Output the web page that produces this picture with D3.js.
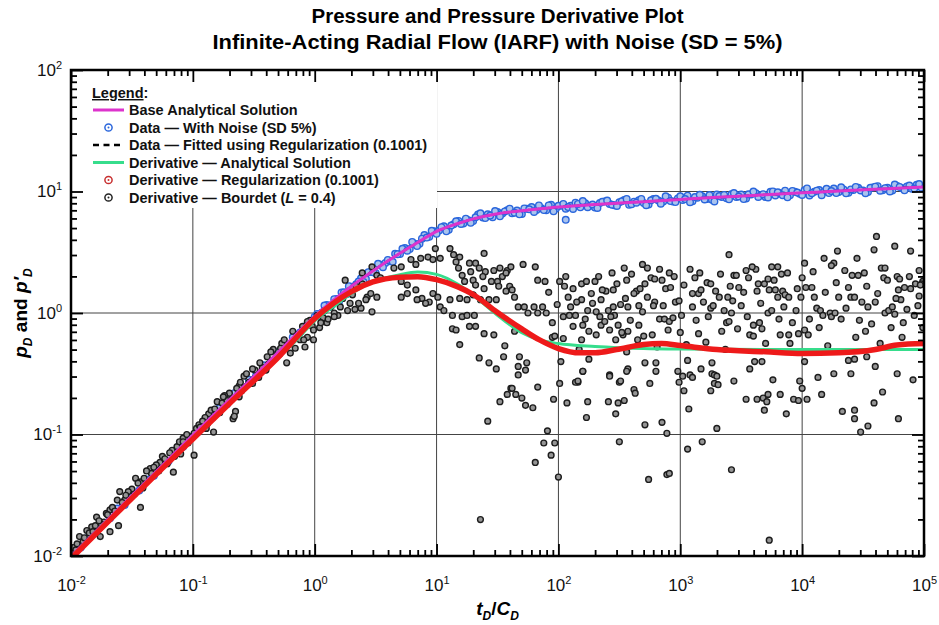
<!DOCTYPE html>
<html>
<head>
<meta charset="utf-8">
<script src="https://cdn.jsdelivr.net/npm/d3@7"></script>
<style>
  body { margin: 0; background: #fff; }
  svg { display: block; }
</style>
</head>
<body>
<svg id="chart"></svg>
<script>
// ---------- data ----------

// axis decades (tick labels are 10^exp)
const xTickExps = [-2, -1, 0, 1, 2, 3, 4, 5];
const yTickExps = [-2, -1, 0, 1, 2];

// base analytical solution pD(tD/CD)
const baseT = [0.01, 0.02, 0.05, 0.1, 0.2, 0.3, 0.5, 1, 2, 3, 5, 7, 10, 15, 20, 30, 50, 70, 100, 200, 500, 1000, 2000, 5000, 1e4, 2e4, 5e4, 1e5];
const baseP = [0.0100, 0.0199, 0.0495, 0.099, 0.194, 0.285, 0.475, 0.94, 1.66, 2.22, 3.1, 3.8, 4.7, 5.45, 5.95, 6.5, 6.95, 7.2, 7.45, 7.8, 8.25, 8.6, 8.95, 9.4, 9.75, 10.1, 10.55, 10.9];

// fitted (regularization) pressure, dashed, sits under the base curve
const fitT = [0.01, 0.02, 0.05, 0.1, 0.2, 0.5, 1, 2, 3, 5, 7, 10, 15, 20, 30, 50, 70, 100, 200, 500, 1000, 2000, 5000, 1e4, 2e4, 5e4, 1e5];
const fitP = [0.0101, 0.0200, 0.0497, 0.0985, 0.195, 0.476, 0.94, 1.67, 2.23, 3.1, 3.79, 4.69, 5.44, 5.95, 6.5, 6.96, 7.21, 7.46, 7.81, 8.25, 8.61, 8.95, 9.41, 9.76, 10.1, 10.56, 10.92];

// analytical derivative p'D
const derivT = [0.01, 0.02, 0.05, 0.1, 0.2, 0.3, 0.5, 0.7, 1, 1.5, 2, 3, 5, 7, 10, 15, 20, 30, 50, 70, 100, 200, 500, 1000, 1e4, 1e5];
const derivP = [0.0098, 0.0195, 0.048, 0.094, 0.18, 0.265, 0.43, 0.59, 0.86, 1.17, 1.45, 1.8, 2.07, 2.17, 2.08, 1.72, 1.4, 1.0, 0.69, 0.6, 0.56, 0.53, 0.51, 0.505, 0.5, 0.5];

// regularization derivative (0.1001)
const regT = [0.01, 0.02, 0.05, 0.1, 0.2, 0.5, 1, 2, 3, 5, 7, 10, 15, 20, 30, 50, 70, 100, 150, 200, 300, 500, 700, 1000, 2000, 5000, 1e4, 2e4, 4e4, 6e4, 1e5];
const regP = [0.0095, 0.019, 0.047, 0.092, 0.18, 0.43, 0.9, 1.5, 1.8, 1.97, 1.99, 1.88, 1.64, 1.42, 1.05, 0.74, 0.6, 0.51, 0.47, 0.47, 0.5, 0.55, 0.56, 0.54, 0.5, 0.48, 0.465, 0.47, 0.5, 0.545, 0.56];

// noisy pressure data, [log10 tD/CD, log10 pD]
const noisyData = [
  [-1.98,-1.97],[-1.92,-1.93],[-1.86,-1.85],[-1.80,-1.81],[-1.74,-1.73],[-1.68,-1.69],[-1.62,-1.61],[-1.56,-1.58],
  [-1.50,-1.49],[-1.44,-1.46],[-1.38,-1.37],[-1.32,-1.34],[-1.26,-1.25],[-1.20,-1.22],[-1.14,-1.13],[-1.08,-1.10],
  [-1.02,-1.02],[-0.96,-0.98],[-0.90,-0.90],[-0.84,-0.86],[-0.78,-0.78],[-0.72,-0.75],[-0.66,-0.66],[-0.60,-0.63],
  [-0.54,-0.55],[-0.48,-0.51],[-0.42,-0.43],[-0.36,-0.40],[-0.30,-0.32],[-0.24,-0.28],[-0.18,-0.20],[-0.12,-0.16],
  [-0.06,-0.09],[0.00,-0.03],
  [0.02,-0.008],[0.06,0.005],[0.10,0.066],[0.14,0.064],[0.18,0.115],[0.22,0.169],[0.26,0.155],[0.30,0.217],
  [0.34,0.236],[0.38,0.286],[0.42,0.280],[0.46,0.339],[0.50,0.330],[0.54,0.398],[0.58,0.412],[0.62,0.426],
  [0.66,0.487],[0.70,0.485],[0.74,0.534],[0.78,0.526],[0.82,0.570],[0.86,0.569],[0.90,0.642],[0.94,0.627],
  [0.98,0.672],[1.02,0.679],[1.06,0.714],[1.10,0.686],[1.14,0.731],[1.18,0.758],[1.22,0.737],[1.26,0.764],
  [1.30,0.758],[1.34,0.810],[1.38,0.787],[1.42,0.812],[1.46,0.788],[1.50,0.831],[1.54,0.819],[1.58,0.845],
  [1.62,0.820],[1.66,0.843],[1.70,0.814],[1.74,0.859],[1.78,0.872],[1.82,0.847],[1.86,0.862],[1.90,0.846],
  [1.94,0.890],[1.98,0.860],[2.02,0.882],[2.06,0.858],[2.10,0.882],[2.14,0.908],[2.18,0.870],[2.22,0.903],
  [2.26,0.883],[2.30,0.869],[2.34,0.905],[2.38,0.917],[2.42,0.898],[2.46,0.887],[2.50,0.912],[2.54,0.931],
  [2.58,0.890],[2.62,0.916],[2.66,0.928],[2.70,0.905],[2.74,0.892],[2.78,0.939],[2.82,0.925],[2.86,0.918],
  [2.90,0.949],[2.94,0.917],[2.98,0.943],[3.02,0.931],[3.06,0.966],[3.10,0.920],[3.14,0.949],[3.18,0.960],
  [3.22,0.938],[3.26,0.933],[3.30,0.976],[3.34,0.955],[3.38,0.944],[3.42,0.977],[3.46,0.955],[3.50,0.975],
  [3.54,0.943],[3.58,0.976],[3.62,0.986],[3.66,0.968],[3.70,0.955],[3.74,0.998],[3.78,0.967],[3.82,0.985],
  [3.86,1.007],[3.90,0.969],[3.94,0.998],[3.98,0.981],[4.02,1.010],[4.06,0.968],[4.10,0.998],[4.14,1.012],
  [4.18,0.997],[4.22,0.987],[4.26,1.024],[4.30,0.996],[4.34,1.017],[4.38,0.989],[4.42,1.013],[4.46,1.030],
  [4.50,1.008],[4.54,0.995],[4.58,1.032],[4.62,1.044],[4.66,1.010],[4.70,1.031],[4.74,1.009],[4.78,1.046],
  [4.82,1.027],[4.86,1.042],[4.90,1.023],[4.94,1.055],[4.98,1.031],[2.06,0.767],
  [0.04,-0.029],[0.08,0.061],[0.12,0.051],[0.16,0.114],[0.20,0.095],[0.24,0.170],[0.28,0.221],[0.32,0.207],
  [0.36,0.259],[0.40,0.256],[0.44,0.336],[0.48,0.336],[0.52,0.405],[0.56,0.377],[0.60,0.437],[0.64,0.421],
  [0.68,0.484],[0.72,0.528],[0.76,0.513],[0.80,0.585],[0.84,0.551],[0.88,0.612],[0.92,0.621],[0.96,0.676],
  [1.00,0.652],[1.04,0.706],[1.08,0.672],[1.12,0.720],[1.16,0.755],[1.20,0.733],[1.24,0.776],[1.28,0.742],
  [1.32,0.788],[1.36,0.821],[1.40,0.781],[1.44,0.802],[1.48,0.839],[1.52,0.796],[1.56,0.836],[1.60,0.859],
  [1.64,0.826],[1.68,0.812],[1.72,0.861],[1.76,0.853],[1.80,0.832],[1.84,0.885],[1.88,0.847],[1.92,0.885],
  [1.96,0.837],[2.00,0.882],[2.04,0.898],[2.08,0.872],[2.12,0.856],[2.16,0.898],[2.20,0.921],[2.24,0.871],
  [2.28,0.893],[2.32,0.864],[2.36,0.915],[2.40,0.925],[2.44,0.891],[2.48,0.881],[2.52,0.919],[2.56,0.939],
  [2.60,0.896],[2.64,0.908],[2.68,0.939],[2.72,0.887],[2.76,0.927],[2.80,0.940],[2.84,0.900],[2.88,0.960],
  [2.92,0.921],[2.96,0.913],[3.00,0.960],[3.04,0.938],[3.08,0.912],[3.12,0.954],[3.16,0.973],[3.20,0.934],
  [3.24,0.971],[3.28,0.918],[3.32,0.962],[3.36,0.972],[3.40,0.936],[3.44,0.987],[3.48,0.959],[3.52,0.938],
  [3.56,0.977],[3.60,1.000],[3.64,0.955],[3.68,0.978],[3.72,0.951],[3.76,1.001],[3.80,0.994],[3.84,0.969],
  [3.88,0.952],[3.92,1.005],[3.96,0.991],[4.00,0.971],[4.04,1.025],[4.08,0.986],[4.12,1.007],[4.16,0.969],
  [4.20,1.022],[4.24,1.004],[4.28,0.987],[4.32,1.035],[4.36,0.985],[4.40,1.017],[4.44,1.038],[4.48,1.009],
  [4.52,0.986],[4.56,1.031],[4.60,1.040],[4.64,1.007],[4.68,1.027],[4.72,1.000],[4.76,1.057],[4.80,1.038],
  [4.84,1.010],[4.88,1.049],[4.92,1.024],[4.96,1.061]
];

// Bourdet derivative (L = 0.4), [log10 tD/CD, log10 p'D]
const bourdetData = [
  [-2.00,-1.97],[-1.98,-1.93],[-1.95,-1.90],[-1.93,-1.84],[-1.87,-1.79],[-1.83,-1.76],[-1.79,-1.68],[-1.76,-1.84],
  [-1.73,-1.72],[-1.71,-1.65],[-1.68,-1.62],[-1.68,-1.80],[-1.62,-1.54],[-1.61,-1.75],[-1.60,-1.47],[-1.56,-1.54],
  [-1.50,-1.45],[-1.47,-1.36],[-1.43,-1.39],[-1.43,-1.60],[-1.35,-1.28],[-1.34,-1.32],[-1.27,-1.23],[-1.21,-1.24],
  [-1.17,-1.13],[-1.16,-1.31],[-1.10,-1.16],[-1.08,-1.03],[-1.02,-1.02],[-0.99,-1.17],[-0.97,-0.95],[-0.87,-0.83],
  [-0.83,-0.98],[-0.80,-0.73],[-0.67,-0.87],[-0.65,-0.81],
  [-1.90,-1.88],[-1.85,-1.81],[-1.80,-1.75],[-1.75,-1.74],[-1.70,-1.66],[-1.66,-1.60],[-1.58,-1.56],[-1.53,-1.47],
  [-1.45,-1.40],[-1.40,-1.36],[-1.38,-1.30],[-1.30,-1.25],[-1.25,-1.18],[-1.19,-1.15],[-1.13,-1.10],[-1.05,-1.00],
  [-0.95,-0.92],[-0.90,-0.86],[-0.85,-0.80],[-0.76,-0.74],[-0.72,-0.70],[-0.70,-0.66],[-0.62,-0.60],
  [-1.96,-1.95],[-1.89,-1.85],[-1.82,-1.80],[-1.77,-1.71],[-1.64,-1.63],[-1.55,-1.50],[-1.48,-1.49],[-1.41,-1.44],
  [-1.32,-1.27],[-1.28,-1.30],[-1.23,-1.20],[-1.15,-1.18],[-1.11,-1.06],[-1.04,-1.07],[-0.92,-0.89],[-0.89,-0.95],
  [-0.82,-0.79],[-0.78,-0.82],[-0.74,-0.68],[-0.68,-0.71],[-0.64,-0.62],[-0.60,-0.64],
  [-0.58,-0.52],[-0.54,-0.57],[-0.49,-0.47],[-0.43,-0.45],[-0.38,-0.42],[-0.34,-0.30],[-0.29,-0.34],[-0.27,-0.25],
  [-0.21,-0.26],[-0.18,-0.15],[-0.14,-0.18],[-0.10,-0.11],[-0.04,-0.06],[0.02,-0.02],[0.04,-0.12],[0.08,0.02],
  [0.13,0.05],[0.19,-0.02],[0.23,0.12],[0.31,0.15],[0.33,0.03],
  [0.25,0.27],[0.39,0.33],[0.47,0.38],[0.43,0.13],[0.47,0.01],[0.38,0.04],[0.29,0.08],[0.21,0.05],
  [0.16,0.00],[0.10,-0.08],[0.07,-0.04],[-0.02,-0.11],[-0.01,-0.22],[-0.08,-0.28],[-0.06,-0.07],[-0.12,-0.22],
  [-0.16,-0.29],[-0.20,-0.33],[-0.25,-0.22],[-0.28,-0.29],[-0.23,-0.41],[-0.31,-0.35],[-0.36,-0.32],[-0.39,-0.36],
  [-0.40,-0.47],[-0.45,-0.41],[-0.46,-0.53],[-0.51,-0.46],[-0.51,-0.58],[-0.56,-0.50],[-0.61,-0.57],[-0.62,-0.69],
  [-0.66,-0.85],[-0.72,-0.72],[-0.75,-0.69],[-0.88,-0.91],[-0.94,-0.94],[-0.99,-0.99],[-1.08,-1.06],
  [0.99,0.53],[1.11,0.53],[1.39,0.49],[0.51,0.31],[0.54,0.29],[0.65,0.37],[0.71,0.38],[0.79,0.44],
  [0.83,0.40],[0.87,0.45],[0.93,0.46],[0.97,0.44],[0.34,0.22],[0.39,0.24],[0.42,0.11],[0.46,0.16],
  [0.51,0.13],[0.36,0.08],[0.27,0.02],[0.16,-0.03],[0.11,-0.05],[0.05,-0.08],[-0.01,-0.14],[-0.06,-0.20],
  [-0.09,-0.22],[0.71,0.26],[0.76,0.23],[0.83,0.19],[0.88,0.12],[0.94,0.09],[0.97,0.16],[1.01,0.13],
  [1.03,0.05],[1.06,0.02],[0.91,0.08],[0.84,0.11],[0.76,0.16],[0.71,0.13],
  [1.03,0.45],[1.14,0.48],[1.19,0.46],[1.16,0.42],[1.27,0.41],[1.32,0.41],[1.35,0.37],[1.28,0.34],
  [1.18,0.37],[1.21,0.31],[1.23,0.26],[1.30,0.27],[1.32,0.23],[1.40,0.34],[1.47,0.35],[1.52,0.37],
  [1.58,0.35],[1.61,0.38],[1.71,0.40],[1.81,0.38],[1.83,0.27],[1.89,0.26],[1.54,0.30],[1.57,0.33],
  [1.50,0.26],[1.38,0.30],[1.45,0.26],[1.39,0.20],[1.51,0.22],[1.60,0.22],[1.57,0.18],[1.62,0.19],
  [1.64,0.13],[1.11,0.11],[1.19,0.12],[1.25,0.11],[1.30,0.15],[1.36,0.11],[1.43,0.11],[1.49,0.11],
  [1.67,0.05],[1.72,0.05],[1.75,0.00],[1.80,0.05],[1.83,0.00],[1.87,0.05],[1.90,0.00],[1.13,-0.02],
  [1.21,-0.03],[1.25,-0.02],[1.31,-0.02],[1.13,-0.13],[1.16,-0.14],[1.27,-0.11],[1.32,-0.11],[1.19,-0.26],
  [1.35,-0.37],[1.39,-0.17],[1.47,-0.18],[1.56,-0.27],[1.55,-0.36],[1.64,-0.15],[1.68,-0.36],[1.74,-0.41],
  [1.67,-0.44],[1.73,-0.47],[1.43,-0.41],[1.49,-0.46],[1.61,-0.62],[1.65,-0.67],[2.01,0.26],[2.05,0.22],
  [2.12,0.20],[2.19,0.24],[2.23,0.26],[2.27,0.16],[2.30,0.26],[2.08,0.13],[2.10,0.05],[2.19,0.11],
  [2.24,0.02],[2.31,0.01],[2.35,0.11],[2.41,0.02],[2.45,0.05],[2.46,-0.02],[2.51,0.07],[2.57,0.05],
  [2.56,0.27],[2.04,-0.03],[2.09,-0.02],[2.14,-0.02],[2.34,-0.03],[2.43,-0.03],[1.95,-0.08],[2.12,-0.11],
  [2.20,-0.10],[2.25,-0.15],[2.35,-0.10],[2.42,-0.14],[2.53,-0.18],[2.57,-0.15],[1.95,-0.20],[1.97,-0.19],
  [2.04,-0.21],[2.19,-0.22],[2.20,-0.48],[2.16,-0.57],[2.25,-0.38],[2.31,-0.18],[2.42,-0.51],[2.50,-0.57],
  [2.57,-0.46],[2.47,-0.22],[2.56,-0.32],
  [1.92,0.17],[1.99,0.07],[2.06,0.30],[2.15,0.09],[2.22,-0.05],[2.28,0.08],[2.17,-0.30],[2.02,-0.40],
  [1.42,-0.89],[1.52,-0.73],[1.58,-0.67],[1.62,-0.62],[1.67,-0.51],[1.70,-0.70],[1.73,-0.76],[1.79,-0.78],
  [1.83,-0.61],[1.81,-1.23],[1.88,-1.07],[1.91,-0.97],[1.94,-1.17],[1.96,-0.71],[1.97,-1.07],[2.00,-1.35],
  [2.01,-0.58],[2.07,-0.74],[1.36,-1.70],[2.14,-0.57],[2.16,-0.56],[2.20,-0.48],[2.23,-0.86],[2.24,-0.73],
  [2.41,-0.73],[2.42,-0.52],[2.47,-0.83],[2.49,-0.74],[2.50,-1.06],[2.51,-0.56],[2.54,-0.72],[2.56,-0.48],
  [2.62,-0.63],[2.63,-0.66],[2.71,-0.92],[2.74,-1.37],[2.75,-0.58],[2.80,-0.48],[2.85,-0.90],[2.89,-0.99],
  [2.89,-1.33],[2.91,-1.32],[2.98,-0.48],[2.99,-0.57],[3.02,-0.52],[3.03,-0.64],[3.06,-1.12],[3.07,-0.79],
  [3.08,-0.51],[3.10,-0.53],[3.18,-1.06],[3.25,-0.64],[3.26,-0.50],[3.28,-0.51],[3.30,-0.52],[3.28,-0.58],
  [3.31,-0.59],[3.30,-0.95],[3.42,-1.29],[3.44,-0.56],[3.54,-0.71],[3.63,-0.71],[3.68,-0.70],[3.71,-0.73],
  [3.72,-0.67],[3.69,-0.80],[3.73,-1.87],[3.76,-0.55],[3.82,-0.67],[3.87,-0.83],[3.93,-0.71],[3.97,-0.72],
  [4.04,-0.71],[3.98,-0.56],[4.00,-0.62],[4.13,-0.53],[4.16,-0.67],[4.26,-0.50],[4.33,-0.81],[4.40,-0.50],
  [4.43,-0.80],[4.43,-0.87],[4.48,-0.98],[4.54,-0.93],[4.59,-0.74],[4.66,-0.65],[4.78,-0.50],[4.79,-0.87],
  [4.91,-0.55],
  [2.71,-0.41],[2.80,-0.41],[3.06,-0.39],[3.17,-0.46],[3.26,-0.41],[3.57,-0.46],[3.61,-0.40],[3.67,-0.40],
  [3.90,-0.25],[4.02,-0.40],[4.38,-0.39],[4.43,-0.38],[4.53,-0.36],[4.60,-0.44],
  [4.61,0.63],[3.40,0.48],[4.29,0.51],[4.76,0.55],[4.59,0.52],[4.89,0.51],[2.54,0.37],[2.69,0.40],
  [2.73,0.37],[2.83,0.36],[2.91,0.33],[3.12,0.29],[3.16,0.33],[3.33,0.32],[3.44,0.31],[3.46,0.31],
  [3.54,0.35],[3.62,0.36],[3.75,0.38],[3.80,0.38],[3.83,0.32],[4.02,0.41],[4.18,0.45],[4.26,0.41],
  [4.24,0.39],[4.45,0.45],[4.46,0.31],[4.51,0.33],[4.35,0.35],[4.65,0.37],[4.68,0.37],[4.67,0.29],
  [4.78,0.30],[4.80,0.28],[4.96,0.35],[4.99,0.26],[4.98,0.24],[2.48,0.24],[2.39,0.18],[2.45,0.19],
  [2.36,0.19],[2.64,0.18],[2.62,0.16],[2.67,0.20],[2.76,0.29],[2.79,0.28],[2.88,0.20],[2.92,0.21],
  [2.96,0.09],[2.66,0.06],[2.69,0.01],[2.79,0.09],[2.86,0.06],[2.73,0.13],[2.52,-0.16],[2.59,-0.06],
  [2.66,-0.10],[2.70,-0.19],[2.77,-0.18],[2.83,-0.05],[2.87,-0.05],[2.91,-0.07],[2.94,-0.04],[3.03,0.23],
  [3.10,0.16],[3.15,0.16],[3.17,0.19],[3.22,0.25],[3.25,0.24],[3.01,-0.02],[3.00,-0.16],[3.10,0.05],
  [3.15,-0.17],[3.23,-0.03],[3.25,0.04],[3.27,0.06],[3.34,-0.15],[3.38,-0.08],[3.40,-0.07],[3.42,0.00],
  [3.32,0.13],[3.41,0.22],[3.39,0.13],[3.48,0.21],[3.50,0.06],[3.56,0.29],[3.64,0.24],[3.63,0.18],
  [3.69,0.24],[3.72,0.28],[3.73,0.19],[3.78,0.19],[3.80,0.13],[3.84,0.18],[3.86,0.15],[3.60,-0.10],
  [3.65,-0.08],[3.67,-0.13],[3.72,0.00],[3.75,0.02],[3.57,-0.18],[3.60,-0.19],[3.82,-0.18],[3.89,-0.18],
  [3.89,0.13],[3.96,0.20],[3.99,0.13],[4.03,0.21],[4.08,0.21],[4.10,0.13],[4.12,0.04],[4.15,0.02],
  [4.17,-0.02],[4.23,0.00],[4.24,-0.03],[4.27,0.00],[3.97,-0.17],[4.02,-0.14],[4.05,-0.18],[4.30,0.13],
  [4.38,0.21],[4.40,0.13],[4.43,0.13],[4.47,-0.06],[4.52,-0.15],[4.54,0.05],[4.60,0.09],[4.68,0.00],
  [4.71,0.02],[4.76,-0.01],[4.83,-0.08],[4.79,0.19],[4.84,0.21],[4.89,0.20],[4.93,0.24],[4.95,0.06],
  [4.97,0.23],[4.74,0.05],[4.81,0.11],
  [2.33,0.30],[2.38,-0.07],[2.44,0.33],[2.49,-0.10],[2.55,0.12],[2.60,0.32],[2.65,-0.22],[2.71,0.24],
  [2.78,0.06],[2.81,-0.28],[2.85,0.27],[2.90,-0.14],[2.95,0.30],[2.99,0.10],[3.05,-0.26],[3.08,0.36],
  [3.13,-0.06],[3.19,0.09],[3.21,-0.24],[3.29,0.18],[3.36,0.02],[3.37,-0.30],[3.43,0.10],[3.47,-0.13],
  [3.52,0.17],[3.55,-0.03],[3.59,0.38],[3.66,0.08],[3.70,-0.25],[3.77,0.27],[3.81,-0.05],[3.85,0.05],
  [3.88,0.33],[3.92,-0.08],[3.95,0.02],[4.00,0.29],[4.06,-0.05],[4.09,0.34],[4.14,-0.12],[4.19,0.17],
  [4.21,-0.27],[4.28,0.25],[4.32,-0.05],[4.36,0.04],[4.41,0.31],[4.44,-0.20],[4.49,0.09],[4.53,0.22],
  [4.57,-0.09],[4.62,0.16],[4.64,-0.25],[4.70,0.27],[4.73,-0.12],[4.77,0.12],[4.82,-0.20],[4.86,0.03],
  [4.88,0.30],[4.92,-0.02],[4.96,0.14],[4.99,-0.12]
];

// ---------- drawing ----------
const W = 939, H = 625;
const plot = { left: 71, right: 924, top: 70, bottom: 556 };

const MAGENTA = '#dd33cc';
const BLUE = '#2a66dc';
const GREEN = '#36dd8c';
const RED = '#ee1a1a';

const NARROW = '"Liberation Sans Narrow", "Arial Narrow", "Liberation Sans", Arial, sans-serif';
const SANS = '"Liberation Sans", Arial, sans-serif';

const svg = d3.select('#chart').attr('width', W).attr('height', H);

const x = d3.scaleLog().domain([1e-2, 1e5]).range([plot.left, plot.right]);
const y = d3.scaleLog().domain([1e-2, 1e2]).range([plot.bottom, plot.top]);

const xMajor = xTickExps.map(e => Math.pow(10, e));
const yMajor = yTickExps.map(e => Math.pow(10, e));
const isDecade = v => Math.abs(Math.log10(v) - Math.round(Math.log10(v))) < 1e-9;
const xMinor = x.ticks().filter(v => !isDecade(v));
const yMinor = y.ticks().filter(v => !isDecade(v));

svg.append('rect').attr('width', W).attr('height', H).attr('fill', '#fff');

// grid at decades
const grid = svg.append('g').attr('stroke', '#444').attr('stroke-width', 1);
grid.selectAll('.gx').data(xMajor.slice(1, -1)).enter().append('line')
  .attr('x1', d => x(d)).attr('x2', d => x(d))
  .attr('y1', plot.top).attr('y2', plot.bottom);
grid.selectAll('.gy').data(yMajor.slice(1, -1)).enter().append('line')
  .attr('y1', d => y(d)).attr('y2', d => y(d))
  .attr('x1', plot.left).attr('x2', plot.right);

// legend background hides the grid behind it
svg.append('rect')
  .attr('x', plot.left + 1).attr('y', plot.top + 1)
  .attr('width', 365).attr('height', 137)
  .attr('fill', '#fff');

// clip for the data
svg.append('clipPath').attr('id', 'clip')
  .append('rect')
  .attr('x', plot.left).attr('y', plot.top)
  .attr('width', plot.right - plot.left).attr('height', plot.bottom - plot.top);

const dataG = svg.append('g').attr('clip-path', 'url(#clip)');

// noisy data (blue)
dataG.append('g').selectAll('circle').data(noisyData).enter().append('circle')
  .attr('cx', d => x(Math.pow(10, d[0])))
  .attr('cy', d => y(Math.pow(10, d[1])))
  .attr('r', 3.3)
  .attr('fill', '#a9c3ee')
  .attr('stroke', BLUE)
  .attr('stroke-width', 1.4);

// Bourdet derivative (black)
dataG.append('g').selectAll('circle').data(bourdetData).enter().append('circle')
  .attr('cx', d => x(Math.pow(10, d[0])))
  .attr('cy', d => y(Math.pow(10, d[1])))
  .attr('r', 2.9)
  .attr('fill', '#959595')
  .attr('stroke', '#1c1c1c')
  .attr('stroke-width', 1.4);

const line = d3.line()
  .x(d => x(d[0]))
  .y(d => y(d[1]))
  .curve(d3.curveMonotoneX);

const zip = (a, b) => a.map((v, i) => [v, b[i]]);

dataG.append('path').datum(zip(fitT, fitP))
  .attr('d', line).attr('fill', 'none')
  .attr('stroke', '#000').attr('stroke-width', 2).attr('stroke-dasharray', '6,4');

dataG.append('path').datum(zip(baseT, baseP))
  .attr('d', line).attr('fill', 'none')
  .attr('stroke', MAGENTA).attr('stroke-width', 3);

dataG.append('path').datum(zip(derivT, derivP))
  .attr('d', line).attr('fill', 'none')
  .attr('stroke', GREEN).attr('stroke-width', 3);

dataG.append('path').datum(zip(regT, regP))
  .attr('d', line).attr('fill', 'none')
  .attr('stroke', RED).attr('stroke-width', 5.5)
  .attr('stroke-linecap', 'round');

// ---------- axes (ticks point inward on all four sides) ----------
function styleAxis(g) {
  g.select('.domain').remove();
  g.selectAll('.tick line').attr('stroke', '#000').attr('stroke-width', 1.8);
}

function powerLabels(g) {
  g.selectAll('.tick text')
    .attr('font-family', NARROW)
    .attr('font-size', 17)
    .attr('fill', '#111')
    .each(function(d) {
      const t = d3.select(this).text(null);
      t.append('tspan').text('10');
      t.append('tspan').attr('dy', -7).attr('font-size', 11)
        .text(Math.round(Math.log10(d)));
    });
}

// bottom
svg.append('g').attr('transform', `translate(0,${plot.bottom})`)
  .call(d3.axisBottom(x).tickValues(xMajor).tickSizeInner(-12).tickSizeOuter(0).tickPadding(23))
  .call(styleAxis).call(powerLabels);
svg.append('g').attr('transform', `translate(0,${plot.bottom})`)
  .call(d3.axisBottom(x).tickValues(xMinor).tickSizeInner(-6).tickSizeOuter(0).tickFormat(''))
  .call(styleAxis);
// top
svg.append('g').attr('transform', `translate(0,${plot.top})`)
  .call(d3.axisTop(x).tickValues(xMajor).tickSizeInner(-12).tickSizeOuter(0).tickFormat(''))
  .call(styleAxis);
svg.append('g').attr('transform', `translate(0,${plot.top})`)
  .call(d3.axisTop(x).tickValues(xMinor).tickSizeInner(-6).tickSizeOuter(0).tickFormat(''))
  .call(styleAxis);
// left
svg.append('g').attr('transform', `translate(${plot.left},0)`)
  .call(d3.axisLeft(y).tickValues(yMajor).tickSizeInner(-12).tickSizeOuter(0).tickPadding(9))
  .call(styleAxis).call(powerLabels);
svg.append('g').attr('transform', `translate(${plot.left},0)`)
  .call(d3.axisLeft(y).tickValues(yMinor).tickSizeInner(-6).tickSizeOuter(0).tickFormat(''))
  .call(styleAxis);
// right
svg.append('g').attr('transform', `translate(${plot.right},0)`)
  .call(d3.axisRight(y).tickValues(yMajor).tickSizeInner(-12).tickSizeOuter(0).tickFormat(''))
  .call(styleAxis);
svg.append('g').attr('transform', `translate(${plot.right},0)`)
  .call(d3.axisRight(y).tickValues(yMinor).tickSizeInner(-6).tickSizeOuter(0).tickFormat(''))
  .call(styleAxis);

// frame
svg.append('rect')
  .attr('x', plot.left).attr('y', plot.top)
  .attr('width', plot.right - plot.left).attr('height', plot.bottom - plot.top)
  .attr('fill', 'none').attr('stroke', '#000').attr('stroke-width', 2.5);

// ---------- titles ----------
const cx = (plot.left + plot.right) / 2;
svg.append('text')
  .attr('x', cx).attr('y', 23)
  .attr('text-anchor', 'middle')
  .attr('font-family', NARROW).attr('font-weight', 'bold').attr('font-size', 20)
  .attr('textLength', 372).attr('lengthAdjust', 'spacingAndGlyphs')
  .text('Pressure and Pressure Derivative Plot');
svg.append('text')
  .attr('x', cx).attr('y', 49)
  .attr('text-anchor', 'middle')
  .attr('font-family', NARROW).attr('font-weight', 'bold').attr('font-size', 20)
  .attr('textLength', 570).attr('lengthAdjust', 'spacingAndGlyphs')
  .text('Infinite-Acting Radial Flow (IARF) with Noise (SD = 5%)');

// x axis title: tD/CD
const xt = svg.append('text')
  .attr('x', cx).attr('y', 615)
  .attr('text-anchor', 'middle')
  .attr('font-family', SANS).attr('font-weight', 'bold').attr('font-size', 19);
xt.append('tspan').attr('font-style', 'italic').text('t');
xt.append('tspan').attr('font-style', 'italic').attr('font-size', 12).attr('dy', 5).text('D');
xt.append('tspan').attr('dy', -5).text('/');
xt.append('tspan').attr('font-style', 'italic').text('C');
xt.append('tspan').attr('font-style', 'italic').attr('font-size', 12).attr('dy', 5).text('D');

// y axis title: pD and p'D
const yt = svg.append('text')
  .attr('transform', `translate(27,${(plot.top + plot.bottom) / 2}) rotate(-90)`)
  .attr('text-anchor', 'middle')
  .attr('font-family', SANS).attr('font-weight', 'bold').attr('font-size', 19);
yt.append('tspan').attr('font-style', 'italic').text('p');
yt.append('tspan').attr('font-style', 'italic').attr('font-size', 12).attr('dy', 5).text('D');
yt.append('tspan').attr('dy', -5).text(' and ');
yt.append('tspan').attr('font-style', 'italic').text('p\u2032');
yt.append('tspan').attr('font-style', 'italic').attr('font-size', 12).attr('dy', 5).text('D');

// ---------- legend ----------
const legendLabels = [
  'Base Analytical Solution',
  'Data \u2014 With Noise (SD 5%)',
  'Data \u2014 Fitted using Regularization (0.1001)',
  'Derivative \u2014 Analytical Solution',
  'Derivative \u2014 Regularization (0.1001)',
  'Derivative \u2014 Bourdet (L = 0.4)'
];
const legendKinds = ['line', 'marker', 'dash', 'line', 'marker', 'marker'];
const legendColors = [MAGENTA, BLUE, '#000', GREEN, '#c83030', '#222'];

const lg = svg.append('g').attr('font-family', SANS).attr('font-weight', 'bold').attr('font-size', 14.5).attr('fill', '#111');
const lgTitle = lg.append('text').attr('x', 92).attr('y', 98);
lgTitle.append('tspan').attr('text-decoration', 'underline').text('Legend');
lgTitle.append('tspan').text(':');

legendLabels.forEach((label, i) => {
  const cy = 110 + i * 17.5;
  const kind = legendKinds[i];
  if (kind === 'line') {
    lg.append('line').attr('x1', 93).attr('x2', 124).attr('y1', cy).attr('y2', cy)
      .attr('stroke', legendColors[i]).attr('stroke-width', 3);
  } else if (kind === 'dash') {
    lg.append('line').attr('x1', 93).attr('x2', 124).attr('y1', cy).attr('y2', cy)
      .attr('stroke', legendColors[i]).attr('stroke-width', 2.5).attr('stroke-dasharray', '6,4.5');
  } else {
    lg.append('circle').attr('cx', 108.5).attr('cy', cy).attr('r', 3.6)
      .attr('fill', '#fff').attr('stroke', legendColors[i]).attr('stroke-width', 1.5);
    lg.append('circle').attr('cx', 108.5).attr('cy', cy).attr('r', 1)
      .attr('fill', legendColors[i]);
  }
  const t = lg.append('text').attr('x', 129).attr('y', cy + 5);
  if (label.indexOf('(L = ') >= 0) {
    const parts = label.split('L');
    t.append('tspan').text(parts[0]);
    t.append('tspan').attr('font-style', 'italic').text('L');
    t.append('tspan').text(parts[1]);
  } else {
    t.text(label);
  }
});
</script>
</body>
</html>
